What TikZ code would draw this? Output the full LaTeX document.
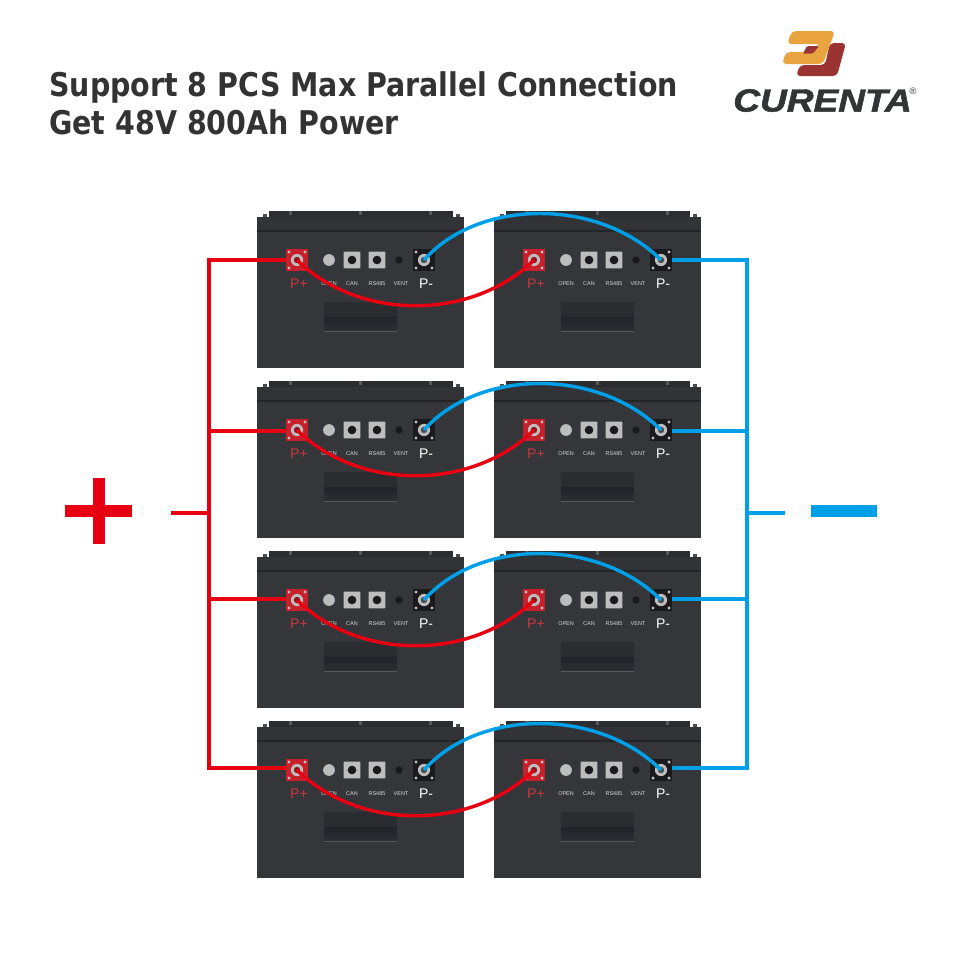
\documentclass[tikz,border=0pt]{standalone}
\usepackage{fontspec}
\setmainfont{Liberation Sans}
\newfontfamily\titlefont{DejaVu Sans}
\definecolor{bodyc}{HTML}{35363A}
\definecolor{lidc}{HTML}{323337}
\definecolor{stripc}{HTML}{2C2D31}
\definecolor{linec}{HTML}{232428}
\definecolor{recess}{HTML}{2A2C30}
\definecolor{recessa}{HTML}{202327}
\definecolor{recessb}{HTML}{2C3035}
\definecolor{wred}{HTML}{E60012}
\definecolor{wblue}{HTML}{00A0E9}
\definecolor{tred}{HTML}{C8202A}
\definecolor{portg}{HTML}{BDBDBD}
\definecolor{holec}{HTML}{1A1A1C}
\definecolor{logoO}{HTML}{E9A33F}
\definecolor{logoB}{HTML}{9B3333}
\definecolor{logoK}{HTML}{333435}
\definecolor{titlec}{HTML}{333333}
\tikzset{
  x=0.75pt,y=-0.75pt,
  titletext/.style={anchor=base west,inner sep=0,text=titlec,font=\titlefont\fontsize{24.5}{24.5}\bfseries\selectfont},
  redwire/.style={draw=wred,line width=2.6pt},
  bluewire/.style={draw=wblue,line width=2.6pt},
  bigsign/.style={inner sep=0,minimum width=50pt,minimum height=9pt},
  tinylabel/.style={inner sep=0,text=white!85!black,font=\fontsize{4.1}{4.1}\selectfont},
  termlabel/.style={inner sep=0,font=\fontsize{10.5}{10.5}\selectfont},
  squareport/.style={draw=none,fill=portg,rounded corners=0.5pt,minimum size=12.6pt,inner sep=0},
  hole/.style={circle,fill=#1,inner sep=0},
  terminal/.style={minimum size=16pt,inner sep=0,fill=#1},
}
\newcommand{\bolts}[2]{% centre, colour
  \foreach \dx/\dy in {-8/-8,8/-8,-8/8,8/8}
    \fill[#2] ([xshift=\dx*0.75pt,yshift=\dy*0.75pt]#1) circle (1.3pt);
}
\newcommand{\battery}[3]{% x, y (top), id
  \begin{scope}[shift={(#1,#2)}]
    \fill[stripc] (12,-1) rectangle (196,6);
    \foreach \bx in {33,103,173} \fill[gray!70!black] (\bx-1.5,-1) rectangle (\bx+1.5,3);
    \foreach \bx in {8,201} \fill[gray!60!black] (\bx-2,2) rectangle (\bx+2,5);
    \fill[lidc] (0,5) rectangle (207,19);
    \fill[bodyc] (0,19) rectangle (207,156);
    \draw[linec,line width=0.8pt] (0,19) -- (207,19);
    \fill[recess] (67,90) rectangle (140,105);
    \shade[top color=recessa,bottom color=recessb] (67,105) rectangle (140,119);
    \draw[gray!70!black,line width=0.5pt] (67,119) -- (140,119);
    % P+
    \node[terminal=tred] (pos#3) at (40,48) {};
    \bolts{pos#3.center}{gray!50!white}
    \fill[portg] (pos#3.center) circle (4.6pt);
    \fill[tred!70!black] (pos#3.center) circle (2.4pt);
    \node[termlabel,text=tred!90!white] (posl#3) at (42,72) {P+};
    % OPEN
    \fill[portg] (72,48) circle (4.4pt);
    \node[tinylabel] (openl#3) at (72,72) {OPEN};
    % CAN
    \node[squareport] (can#3) at (95,48) {};
    \node[hole=holec,minimum size=6.5pt] at (can#3.center) {};
    \node[tinylabel] (canl#3) at (95,72) {CAN};
    % RS485
    \node[squareport] (rs#3) at (120,48) {};
    \node[hole=holec,minimum size=6.5pt] at (rs#3.center) {};
    \node[tinylabel] (rsl#3) at (120,72) {RS485};
    % VENT
    \node[hole=holec,minimum size=5.5pt] (vent#3) at (142,48) {};
    \node[tinylabel] (ventl#3) at (144,72) {VENT};
    % P-
    \node[terminal=holec] (neg#3) at (167,48) {};
    \bolts{neg#3.center}{gray!50!white}
    \fill[portg] (neg#3.center) circle (4.6pt);
    \fill[black!70] (neg#3.center) circle (2.4pt);
    \node[termlabel,text=white] (negl#3) at (169,72) {P-};
  \end{scope}
}
\begin{document}
\begin{tikzpicture}
\useasboundingbox (0,0) rectangle (960,960);
\fill[white] (0,0) rectangle (960,960);
\node[titletext] (t1) at (49,96) {\scalebox{0.872}[1]{Support 8 PCS Max Parallel Connection}};
\node[titletext] (t2) at (49,134) {\scalebox{0.872}[1]{Get 48V 800Ah Power}};
% logo
\fill[logoB,rounded corners=3pt] (830,43) -- (846,43) -- (837,76) -- (796,76) -- (800,65) -- (825,65) -- cycle;
\fill[logoO,rounded corners=3pt] (792,31) -- (835,31) -- (823,64) -- (782,64) -- (786,52) -- (813,52) -- (820,44) -- (787,44) -- cycle;
\fill[logoB,rounded corners=1pt] (803,53.5) -- (807,46) -- (819,46) -- (813,53.5) -- cycle;
\node[inner sep=0,text=logoK] (logo) at (822.5,100.5) {\scalebox{1.39}[1.2]{\fontsize{20}{20}\bfseries\itshape\addfontfeature{FakeBold=1.5}\selectfont CURENTA}};
\node[inner sep=0,text=logoK,font=\fontsize{7}{7}\selectfont] (reg) at (913,91) {®};
% batteries
\foreach \r/\yy in {1/212,2/382,3/552,4/722}{
  \battery{257}{\yy}{a\r}
  \battery{494}{\yy}{b\r}
}
% series jumpers
\foreach \r in {1,2,3,4}{
  \draw[redwire] (posa\r.center) .. controls +(62,61) and +(-62,61) .. (posb\r.center);
  \draw[bluewire] (nega\r.center) .. controls +(55,-62) and +(-62,-62) .. (negb\r.center);
}
% bus
\coordinate (rb1) at (209,260);
\coordinate (rb2) at (209,431);
\coordinate (rb3) at (209,599);
\coordinate (rb4) at (209,768);
\coordinate (rm) at (209,513);
\coordinate (rs) at (171,513);
\coordinate (bb1) at (747,260);
\coordinate (bb2) at (747,431);
\coordinate (bb3) at (747,599);
\coordinate (bb4) at (747,768);
\coordinate (bm) at (747,513);
\coordinate (bs) at (785,513);
\draw[redwire,line join=miter] (rb1 -| posa1.west) -- (rb1) -- (rb4) -- (rb4 -| posa4.west);
\draw[redwire] (rb2) -- (rb2 -| posa2.west);
\draw[redwire] (rb3) -- (rb3 -| posa3.west);
\draw[redwire] (rs) -- (rm);
\draw[bluewire,line join=miter] (bb1 -| negb1.east) -- (bb1) -- (bb4) -- (bb4 -| negb4.east);
\draw[bluewire] (bb2) -- (bb2 -| negb2.east);
\draw[bluewire] (bb3) -- (bb3 -| negb3.east);
\draw[bluewire] (bs) -- (bm);
% signs
\node[bigsign,fill=wred] (plush) at (98.5,511) {};
\node[bigsign,fill=wred,rotate=90] (plusv) at (98.5,511) {};
\node[bigsign,fill=wblue] (minus) at (844,511) {};
\end{tikzpicture}
\end{document}
